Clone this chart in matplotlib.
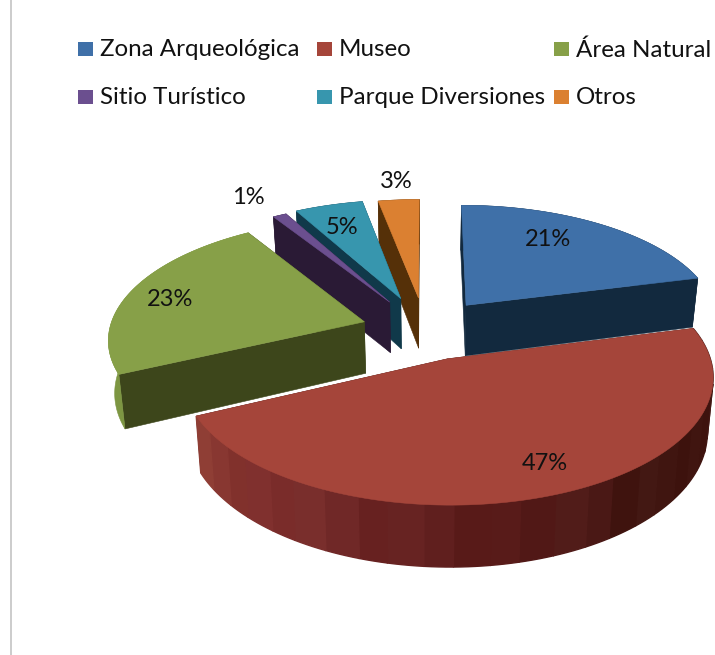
import numpy as np
import matplotlib
matplotlib.use('Agg')
import matplotlib.pyplot as plt
from matplotlib.patches import Polygon, Rectangle

categories = ['Zona Arqueológica', 'Museo', 'Área Natural', 'Sitio Turístico', 'Parque Diversiones', 'Otros']
values = [21, 47, 23, 1, 5, 3]
labels = ['21%', '47%', '23%', '1%', '5%', '3%']

top_colors = ['#3F70A8', '#A5453A', '#87A048', '#6B4F8F', '#3796AE', '#DB8031']
side_colors = ['#12293E', '#3F1410', '#3D461B', '#2A1A35', '#10394A', '#553008']
wall_colors = ['#12293E', '#3F1410', '#7D9642', '#2A1A35', '#10394A', '#553008']
explode = [0.27, 0.25, 0.25, 0.28, 0.29, 0.28]
label_xy = [(548, 239), (545, 463), (170, 299), (248, 197), (342, 228), (396, 181)]

# perspective of the pie plane
cx, cy = 425, 330
A, B, p = 255, 119, 0.13
depth = 52
shrink = 0.98

plt.rcParams['font.family'] = ['Lato', 'DejaVu Sans']
fig = plt.figure(figsize=(7.15, 6.55), dpi=100)
ax = fig.add_axes([0, 0, 1, 1])
ax.set_xlim(0, 715)
ax.set_ylim(655, 0)
ax.axis('off')


def project(x, y, low=False):
    w = 1 + p * y
    u = A * x / w
    v = -B * y / w
    if low:
        return cx + u * shrink, cy + v + depth / w
    return cx + u, cy + v


def face(pts_top, pts_low, color, z, lw=0.4):
    pts = list(pts_top) + list(pts_low)[::-1]
    ax.add_patch(Polygon(pts, closed=True, fc=color, ec=color, lw=lw, zorder=z))


# museo wall goes from light on the left to almost black on the right
def museo_shade(t, tint):
    stops = [-155, -130, -100, -75, -50, 15]
    rgb = np.array([[0x8E, 0x3D, 0x33], [0x80, 0x30, 0x2E], [0x65, 0x21, 0x20],
                    [0x55, 0x1A, 0x18], [0x40, 0x15, 0x10], [0x3F, 0x14, 0x10]]) / 255
    return tuple(np.clip(np.interp(t, stops, rgb[:, i]) + tint, 0, 1) for i in range(3))


band_tints = [0.0, 0.012, -0.01, 0.006, 0.015, -0.006, 0.0, -0.012]

fractions = np.array(values) / sum(values)
ends = 90 - np.cumsum(fractions) * 360
starts = np.r_[90, ends[:-1]]
draw_order = [5, 4, 3, 0, 2, 1]

for i in draw_order:
    t0, t1 = starts[i], ends[i]
    mid = np.radians((t0 + t1) / 2)
    ex = explode[i] * np.cos(mid)
    ey = explode[i] * np.sin(mid)
    z = draw_order.index(i) * 10 + 1

    theta = np.radians(np.linspace(t0, t1, 120))
    xs = ex + np.cos(theta)
    ys = ey + np.sin(theta)
    rim_top = [project(a, b) for a, b in zip(xs, ys)]
    rim_low = [project(a, b, True) for a, b in zip(xs, ys)]
    apex_top = project(ex, ey)
    apex_low = project(ex, ey, True)

    # radial faces, the one turned away from the viewer first
    sides = [(np.sin(np.radians(t0 + 90)), rim_top[0], rim_low[0]),
             (np.sin(np.radians(t1 - 90)), rim_top[-1], rim_low[-1])]
    sides.sort(key=lambda s: -s[0])
    for _, a, b in sides:
        face([apex_top, a], [apex_low, b], side_colors[i], z)

    # outer wall
    if i == 1:
        strips = 26
        cuts = np.linspace(0, 119, strips + 1).astype(int)
        for n, (c0, c1) in enumerate(zip(cuts[:-1], cuts[1:])):
            tm = np.degrees(theta[(c0 + c1) // 2])
            col = museo_shade(tm, band_tints[n % len(band_tints)])
            face(rim_top[c0:c1 + 1], rim_low[c0:c1 + 1], col, z + 1, lw=1.0)
    else:
        face(rim_top, rim_low, wall_colors[i], z + 1)

    ax.add_patch(Polygon([apex_top] + rim_top, closed=True, fc=top_colors[i],
                         ec=top_colors[i], lw=0.4, zorder=z + 2))

for xy, lab in zip(label_xy, labels):
    ax.text(xy[0], xy[1], lab, fontsize=17, color='#111111', ha='center', va='center', zorder=100)

# legend
col_box = [78, 317, 554]
row_y = [49, 97]
for i, name in enumerate(categories):
    x = col_box[i % 3]
    y = row_y[i // 3]
    ax.add_patch(Rectangle((x, y - 7), 15, 14, fc=top_colors[i], ec='none', zorder=100))
    ax.text(x + 22, y + 1, name, fontsize=17.4, color='#111111', ha='left', va='center', zorder=100)

# chart frame
ax.plot([10.5, 10.5], [0, 655], color='#BEBEBE', lw=1.1, zorder=0)

fig.savefig('out.png', dpi=100)
